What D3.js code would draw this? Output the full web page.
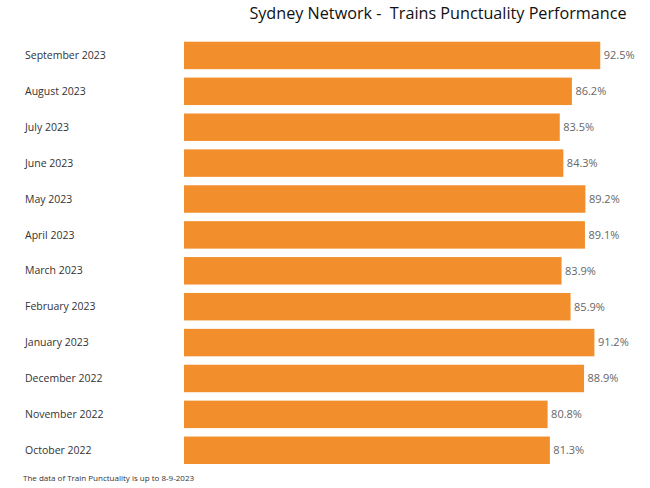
<!DOCTYPE html>
<html><head><meta charset="utf-8">
<script src="https://cdn.jsdelivr.net/npm/d3@7"></script>
<style>body{margin:0;background:#fff}svg{display:block}</style>
</head><body>
<script>
const months = ["September 2023","August 2023","July 2023","June 2023","May 2023","April 2023","March 2023","February 2023","January 2023","December 2022","November 2022","October 2022"];
const punctuality = [92.5,86.2,83.5,84.3,89.2,89.1,83.9,85.9,91.2,88.9,80.8,81.3];
const title = "Sydney Network -  Trains Punctuality Performance";
const footnote = "The data of Train Punctuality is up to 8-9-2023";

const W=650,H=488;
const svg=d3.select("body").append("svg").attr("width",W).attr("height",H);
const font="'Open Sans', 'Noto Sans', sans-serif";
const x=d3.scaleLinear().domain([0,100]).range([184,634]);
const y=d3.scaleBand().domain(months).range([41.7,464]).paddingInner(0.235).paddingOuter(0);
const data=months.map((m,i)=>({m,v:punctuality[i]}));

svg.append("text").attr("x",438).attr("y",19).attr("text-anchor","middle")
  .style("white-space","pre")
  .attr("font-family",font).attr("font-size",16.2).attr("fill","#111").text(title);

svg.selectAll("rect.bar").data(data).join("rect").attr("class","bar")
  .attr("x",x(0)).attr("y",d=>y(d.m)).attr("width",d=>x(d.v)-x(0)).attr("height",y.bandwidth())
  .attr("fill","#F28E2B");

svg.selectAll("text.cat").data(data).join("text").attr("class","cat")
  .attr("x",25).attr("y",d=>y(d.m)+y.bandwidth()/2).attr("dy","0.35em")
  .attr("font-family",font).attr("font-size",10.5).attr("fill","#333").text(d=>d.m);

svg.selectAll("text.val").data(data).join("text").attr("class","val")
  .attr("x",d=>x(d.v)+3.5).attr("y",d=>y(d.m)+y.bandwidth()/2).attr("dy","0.35em")
  .attr("font-family",font).attr("font-size",11).attr("fill","#666").text(d=>d.v.toFixed(1)+"%");

svg.append("text").attr("x",23).attr("y",481).attr("font-family",font).attr("font-size",8)
  .attr("fill","#333").text(footnote);
</script>
</body></html>
